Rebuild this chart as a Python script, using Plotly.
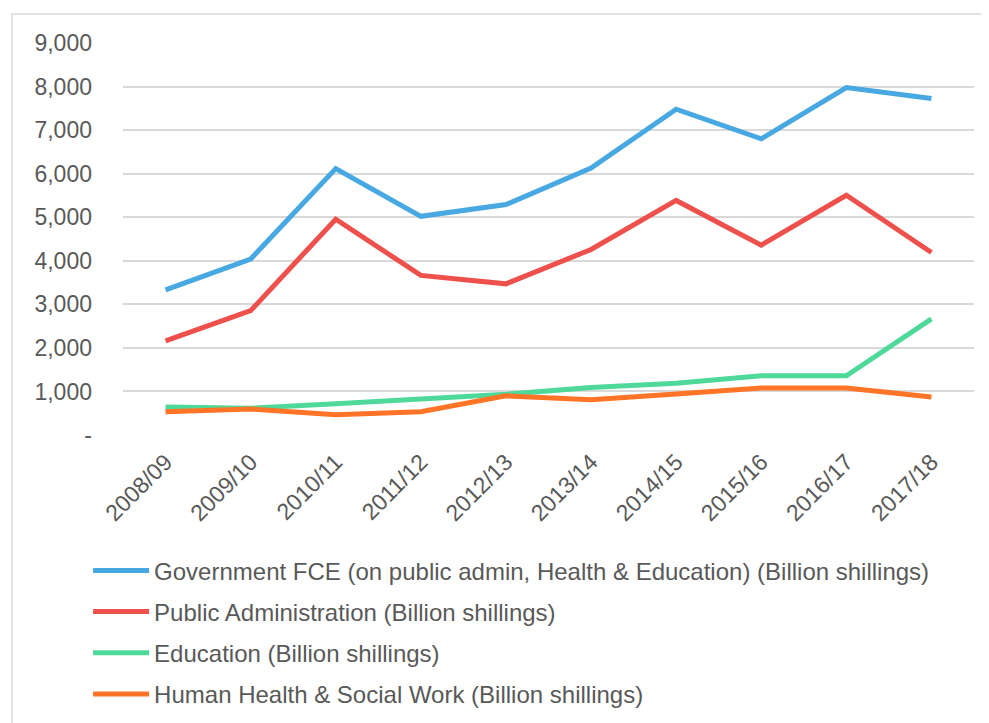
import plotly.graph_objs as go

years = ['2008/09', '2009/10', '2010/11', '2011/12', '2012/13',
         '2013/14', '2014/15', '2015/16', '2016/17', '2017/18']

gov_fce = [3330, 4040, 6115, 5020, 5290, 6130, 7480, 6800, 7975, 7725]
public_admin = [2160, 2855, 4955, 3665, 3470, 4260, 5385, 4360, 5505, 4190]
education = [640, 615, 715, 825, 935, 1090, 1190, 1360, 1360, 2665]
health = [535, 595, 465, 535, 900, 810, 940, 1080, 1080, 870]

series = [
    ('Government FCE (on public admin, Health & Education) (Billion shillings)', gov_fce, '#47A8E2'),
    ('Public Administration (Billion shillings)', public_admin, '#EE504B'),
    ('Education (Billion shillings)', education, '#4ED99B'),
    ('Human Health & Social Work (Billion shillings)', health, '#FF7426'),
]

txt = '#595959'
fnt = 'Liberation Sans, Arial, sans-serif'

# page body has an 8px margin, so the figure is drawn 8px in from the corner
W, H = 981, 715
L, T, R, B = 115, 35, 15, 288
pw, ph = W - L - R, H - T - B

fig = go.Figure()
for i, (name, vals, col) in enumerate(series):
    fig.add_trace(go.Scatter(
        x=years, y=vals, name=name, mode='lines',
        line={'color': col, 'width': 5},
        legendgroup=str(i),
    ))

fig.update_layout(
    width=W, height=H,
    paper_bgcolor='white', plot_bgcolor='white',
    font={'family': fnt, 'color': txt, 'size': 23},
    margin={'l': L, 'r': R, 't': T, 'b': B, 'autoexpand': False},
    showlegend=True,
    legend={
        'x': -0.041, 'xanchor': 'left', 'y': -0.289, 'yanchor': 'top',
        'traceorder': 'grouped', 'tracegroupgap': 7,
        'itemwidth': 56,
        'font': {'size': 24, 'color': txt},
    },
    xaxis={
        'type': 'category', 'range': [-0.5, 9.5],
        'tickangle': -45, 'showgrid': False, 'showline': False,
        'tickfont': {'size': 23, 'color': txt}, 'ticks': '',
        'ticklabelstandoff': 8,
        'automargin': False,
    },
    yaxis={
        'range': [0, 9000], 'tickvals': list(range(0, 9001, 1000)),
        'ticktext': ['-'] + [f'{v:,}' for v in range(1000, 9001, 1000)],
        'gridcolor': '#D9D9D9', 'gridwidth': 1.5, 'zeroline': False,
        'showline': False, 'ticklabelstandoff': 30,
        'tickfont': {'size': 23, 'color': txt},
        'automargin': False,
    },
    shapes=[{
        'type': 'rect', 'xref': 'paper', 'yref': 'paper',
        'x0': (4 - L) / pw, 'x1': (W + 20 - L) / pw,
        'y0': (T + ph - H - 30) / ph, 'y1': (T + ph - 6) / ph,
        'line': {'color': '#D9D9D9', 'width': 1.5},
    }],
)

fig.write_html('out.html')
